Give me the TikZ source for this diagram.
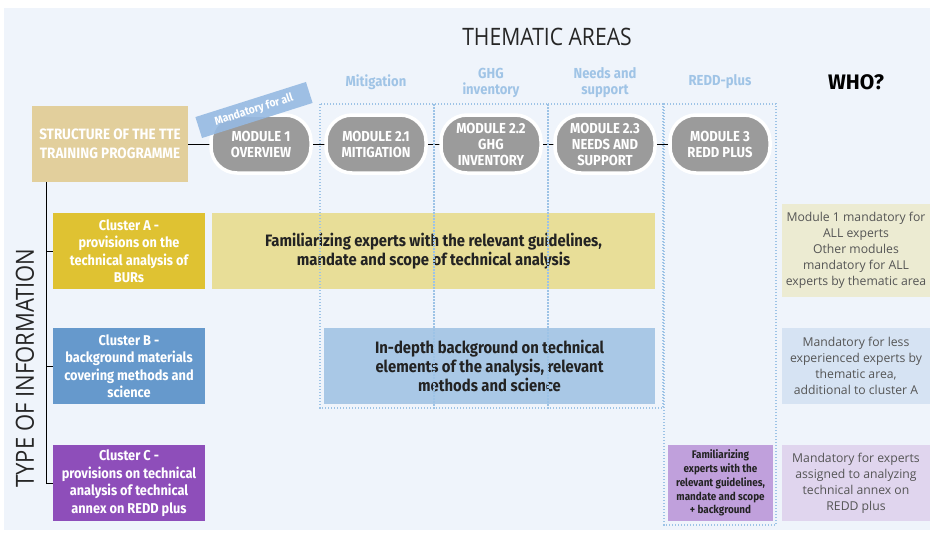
\documentclass[tikz,border=0pt]{standalone}
\usepackage{fontspec}
\setmainfont{Open Sans}
\newfontfamily\cond[FakeStretch=0.9]{Fira Sans}
\newfontfamily\boldf{Fira Sans}
\newfontfamily\plainf{Open Sans}
\newfontfamily\lightf[FakeStretch=0.88]{Open Sans}
\pgfdeclarelayer{back}
\pgfdeclarelayer{mid}
\pgfdeclarelayer{front}
\pgfsetlayers{back,mid,main,front}
\definecolor{bgc}{RGB}{239,244,251}
\definecolor{tan}{RGB}{226,207,156}
\definecolor{modgray}{RGB}{155,155,155}
\definecolor{dotc}{RGB}{157,195,230}
\definecolor{hdrc}{RGB}{160,196,230}
\definecolor{bannerc}{RGB}{150,186,226}
\definecolor{clA}{RGB}{223,194,50}
\definecolor{clB}{RGB}{102,153,204}
\definecolor{clC}{RGB}{142,78,186}
\definecolor{bxA}{RGB}{232,222,152}
\definecolor{bxB}{RGB}{169,200,230}
\definecolor{bxC}{RGB}{192,160,220}
\definecolor{whA}{RGB}{236,235,210}
\definecolor{whB}{RGB}{214,227,243}
\definecolor{whC}{RGB}{224,213,238}
\definecolor{whtext}{RGB}{85,85,85}
\definecolor{dark}{RGB}{35,35,35}
\begin{document}
\begin{tikzpicture}[x=1pt,y=-1pt,
  module/.style={fill=modgray,draw=white,line width=3.5pt,rounded corners=26pt,
    minimum width=100pt,minimum height=58pt,text=white,align=center,inner sep=0pt,
    font=\cond\bfseries\fontsize{14.5}{16}\selectfont},
  cluster/.style={minimum width=152pt,minimum height=76pt,text=white,align=center,inner sep=0pt,
    font=\cond\bfseries\fontsize{14.2}{17.5}\selectfont},
  bigbox/.style={minimum height=76pt,text=dark,align=center,inner sep=0pt,
    font=\cond\bfseries\fontsize{16.5}{19}\selectfont},
  whobox/.style={minimum width=148pt,text=whtext,align=center,inner sep=0pt,
    font=\plainf\fontsize{12.2}{16}\selectfont},
  hdr/.style={text=hdrc,align=center,font=\cond\bfseries\fontsize{14.5}{16}\selectfont},
  col/.style={draw=dotc,line width=1.3pt,dash pattern=on 1.3pt off 1.7pt},
  conn/.style={draw=black,line width=1pt}
]
\useasboundingbox (0,0) rectangle (930,533);
\begin{pgfonlayer}{back}
\fill[bgc] (4,8) rectangle (930,530);
\end{pgfonlayer}

% titles
\node[font=\lightf\fontsize{24}{26}\selectfont,text=black!85] (title) at (547,37) {THEMATIC AREAS};
\node[hdr] (h1) at (376,82) {Mitigation};
\node[hdr] (h2) at (491,83) {GHG\\inventory};
\node[hdr] (h3) at (605,83) {Needs and\\support};
\node[hdr] (h4) at (720,82) {REDD-plus};
\node[font=\boldf\bfseries\fontsize{21}{24}\selectfont,text=black] (who) at (856,82) {WHO?};

% structure + modules
\node[fill=tan,minimum width=156pt,minimum height=76pt,text=white,align=center,inner sep=0pt,
  font=\cond\bfseries\fontsize{15}{19}\selectfont] (struct) at (110,144) {STRUCTURE OF THE TTE\\TRAINING PROGRAMME};
\node[module] (m1) at (261,144) {MODULE 1\\OVERVIEW};
\node[module] (m2) at (376,144) {MODULE 2.1\\MITIGATION};
\node[module] (m3) at (491,144) {MODULE 2.2\\GHG\\INVENTORY};
\node[module] (m4) at (605,144) {MODULE 2.3\\NEEDS AND\\SUPPORT};
\node[module] (m5) at (720,144) {MODULE 3\\REDD PLUS};
\node[fill=bannerc,fill opacity=0.9,text opacity=1,text=white,rotate=17.6,minimum width=116pt,minimum height=22pt,
  inner sep=0pt,font=\cond\bfseries\fontsize{11.5}{12}\selectfont] (banner) at (254,110) {Mandatory for all};

\begin{pgfonlayer}{mid}
\draw[conn] (struct.east) -- (m5.west);
\coordinate (treetop) at (46,182);
\end{pgfonlayer}

% clusters
\node[cluster,fill=clA] (cA) at (129,251) {Cluster A -\\provisions on the\\technical analysis of\\BURs};
\node[cluster,fill=clB] (cB) at (129,366) {Cluster B -\\background materials\\covering methods and\\science};
\node[cluster,fill=clC] (cC) at (129,483) {Cluster C -\\provisions on technical\\analysis of technical\\annex on REDD plus};

\begin{pgfonlayer}{mid}
\draw[conn] (treetop) |- (cC.west);
\draw[conn] (cA.west -| treetop) -- (cA.west);
\draw[conn] (cB.west -| treetop) -- (cB.west);
\end{pgfonlayer}

\node[font=\lightf\fontsize{25}{27}\selectfont,text=black!85,rotate=90] (toi) at (25,368) {TYPE OF INFORMATION};

% content boxes
\node[bigbox,fill=bxA,minimum width=443pt] (bA) at (433.5,251) {Familiarizing experts with the relevant guidelines,\\mandate and scope of technical analysis};
\node[bigbox,fill=bxB,minimum width=331pt] (bB) at (489.5,366) {In-depth background on technical\\elements of the analysis, relevant\\methods and science};
\node[fill=bxC,minimum width=105pt,minimum height=76pt,text=dark,align=center,inner sep=0pt,
  font=\cond\bfseries\fontsize{11}{13.8}\selectfont] (bC) at (720.5,483) {Familiarizing\\experts with the\\relevant guidelines,\\mandate and scope\\+ background};

% who boxes
\node[whobox,fill=whA,minimum height=93pt] (wA) at (856,250.5) {Module 1 mandatory for\\ALL experts\\Other modules\\mandatory for ALL\\experts by thematic area};
\node[whobox,fill=whB,minimum height=76pt] (wB) at (856,366) {Mandatory for less\\experienced experts by\\thematic area,\\additional to cluster A};
\node[whobox,fill=whC,minimum height=76pt] (wC) at (856,483) {Mandatory for experts\\assigned to analyzing\\technical annex on\\REDD plus};

% dotted columns
\begin{pgfonlayer}{front}
\draw[col] (320,104) rectangle (434,408);
\draw[col] (434,104) rectangle (548,408);
\draw[col] (548,104) rectangle (663,408);
\draw[col] (664,104) rectangle (776,525);
\end{pgfonlayer}
\end{tikzpicture}
\end{document}
